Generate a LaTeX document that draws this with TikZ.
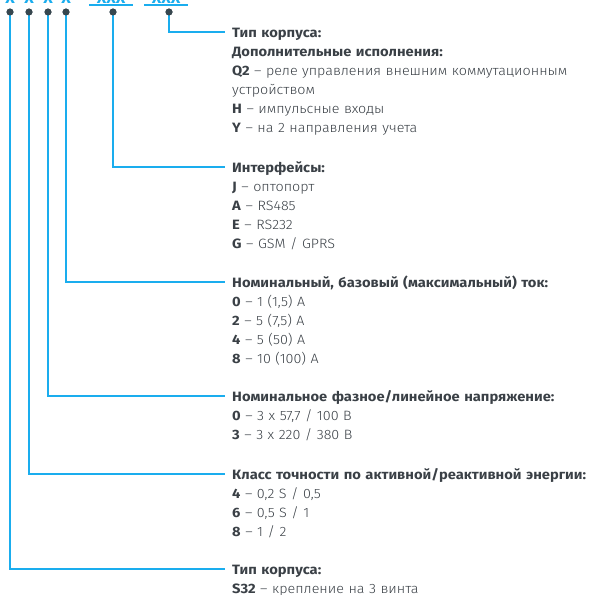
\documentclass[tikz,border=0pt]{standalone}
\usepackage{fontspec}
\setmainfont{Fira Sans}[UprightFont=* Light,BoldFont=* Bold,
  UprightFeatures={FakeStretch=1.06},BoldFeatures={FakeStretch=1.09}]
\definecolor{lineblue}{HTML}{1AADEE}
\definecolor{dotgray}{HTML}{37474F}
\definecolor{txtgray}{HTML}{3A4046}
\begin{document}
\begin{tikzpicture}[x=1pt,y=-1pt,
  conn/.style={lineblue,line width=1.8pt},
  dotmark/.style={circle,fill=dotgray,inner sep=0pt,minimum size=7pt},
  block/.style={anchor=base west,inner sep=0pt,text width=370pt,align=left,
    font=\fontsize{13.5}{19}\selectfont,text=txtgray},
  topx/.style={anchor=base,inner sep=0pt,text=lineblue,font=\bfseries\fontsize{15}{15}\selectfont}]
\useasboundingbox (0,0) rectangle (589,595);
\clip (0,0) rectangle (589,595);
% partial code letters at top
\node[topx] (x1) at (10,3) {X};
\node[topx] (x2) at (29,3) {X};
\node[topx] (x3) at (48,3) {X};
\node[topx] (x4) at (66,3) {X};
\node[topx] (g2) at (111,3) {XXX};
\node[topx] (g3) at (166,3) {XXX};
\draw[lineblue,line width=1.3pt] (89,5) -- (133,5);
\draw[lineblue,line width=1.3pt] (144,5) -- (188,5);
% dots
\node[dotmark] (d1) at (10,12) {};
\node[dotmark] (d2) at (29,12) {};
\node[dotmark] (d3) at (48,12) {};
\node[dotmark] (d4) at (66,12) {};
\node[dotmark] (d5) at (113,12) {};
\node[dotmark] (d6) at (169,12) {};
% end coordinates
\coordinate (e6) at (225,32);
\coordinate (e5) at (225,167);
\coordinate (e4) at (225,282);
\coordinate (e3) at (225,396);
\coordinate (e2) at (225,474);
\coordinate (e1) at (225,569);
\draw[conn] (d6.center) |- (e6);
\draw[conn] (d5.center) |- (e5);
\draw[conn] (d4.center) |- (e4);
\draw[conn] (d3.center) |- (e3);
\draw[conn] (d2.center) |- (e2);
\draw[conn] (d1.center) |- (e1);
\foreach \i in {1,...,6} {\node[dotmark] at (d\i) {};}
% text blocks
\node[block] (t6) at (232,37) {\textbf{Тип корпуса:}\\
\textbf{Дополнительные исполнения:}\\
\textbf{Q2} – реле управления внешним коммутационным\\
устройством\\
\textbf{H} – импульсные входы\\
\textbf{Y} – на 2 направления учета};
\node[block] (t5) at (232,172) {\textbf{Интерфейсы:}\\
\textbf{J} – оптопорт\\
\textbf{A} – RS485\\
\textbf{E} – RS232\\
\textbf{G} – GSM / GPRS};
\node[block] (t4) at (232,287) {\textbf{Номинальный, базовый (максимальный) ток:}\\
\textbf{0} – 1 (1,5) А\\
\textbf{2} – 5 (7,5) А\\
\textbf{4} – 5 (50) А\\
\textbf{8} – 10 (100) А};
\node[block] (t3) at (232,401) {\textbf{Номинальное фазное/линейное напряжение:}\\
\textbf{0} – 3 x 57,7 / 100 В\\
\textbf{3} – 3 x 220 / 380 В};
\node[block] (t2) at (232,479) {\textbf{Класс точности по активной/реактивной энергии:}\\
\textbf{4} – 0,2 S / 0,5\\
\textbf{6} – 0,5 S / 1\\
\textbf{8} – 1 / 2};
\node[block] (t1) at (232,574) {\textbf{Тип корпуса:}\\
\textbf{S32} – крепление на 3 винта};
\end{tikzpicture}
\end{document}
